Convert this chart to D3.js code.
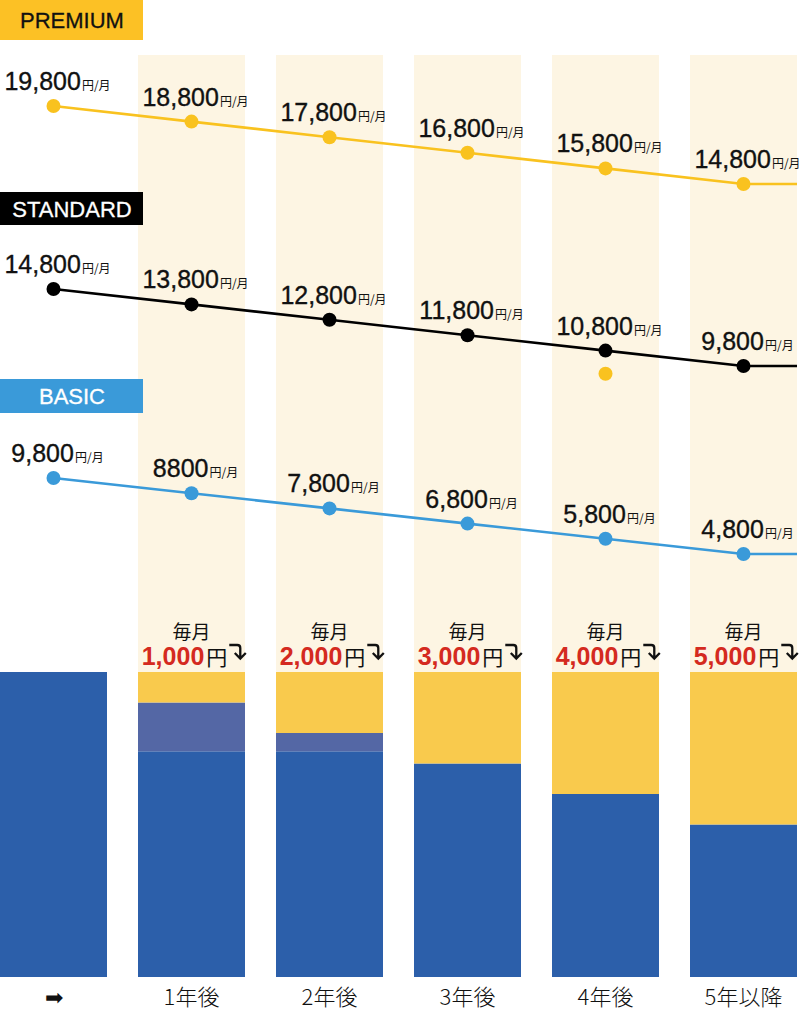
<!DOCTYPE html>
<html><head><meta charset="utf-8">
<script src="https://cdn.jsdelivr.net/npm/d3@7"></script>
<style>html,body{margin:0;padding:0;background:#fff;}svg{display:block;}</style>
</head><body>
<script>
// ---- data ----
const columns = ["➡", "1年後", "2年後", "3年後", "4年後", "5年以降"];
const premiumValues = [19800, 18800, 17800, 16800, 15800, 14800];
const premiumLabels = ["19,800", "18,800", "17,800", "16,800", "15,800", "14,800"];
const standardValues = [14800, 13800, 12800, 11800, 10800, 9800];
const standardLabels = ["14,800", "13,800", "12,800", "11,800", "10,800", "9,800"];
const basicValues = [9800, 8800, 7800, 6800, 5800, 4800];
const basicLabels = ["9,800", "8800", "7,800", "6,800", "5,800", "4,800"];
const discounts = [0, 1000, 2000, 3000, 4000, 5000];
const discountLabels = ["", "1,000", "2,000", "3,000", "4,000", "5,000"];
const overlapValues = [0, 1600, 600, 0, 0, 0];
const barTotal = 10000;
const strayDots = [{ col: "4年後", value: 9300 }];
const seriesNames = ["PREMIUM", "STANDARD", "BASIC"];

// ---- layout ----
const W = 802, H = 1024;
const svg = d3.select("body").append("svg").attr("width", W).attr("height", H);

const x = d3.scaleBand().domain(columns).range([0, 797]).paddingInner(31 / 138).paddingOuter(0);
const cx = c => x(c) + x.bandwidth() / 2;

const yBar = d3.scaleLinear().domain([0, barTotal]).range([977, 672]);

const COL_YEL = "#f9c21f", COL_BLK = "#000", COL_BLU = "#3a9ad9";

// light column backgrounds
svg.append("g").selectAll("rect").data(columns.slice(1)).join("rect")
  .attr("x", d => x(d)).attr("width", x.bandwidth())
  .attr("y", 55).attr("height", yBar(barTotal) - 55)
  .attr("fill", "#fdf5e3");

// series label boxes
const boxes = [
  { name: seriesNames[0], y: 0, h: 40, fill: "#fcc125", text: "#111" },
  { name: seriesNames[1], y: 192, h: 33, fill: "#000", text: "#fff" },
  { name: seriesNames[2], y: 379, h: 34, fill: "#3a9ad9", text: "#fff" }
];
boxes.forEach(b => {
  svg.append("rect").attr("x", 0).attr("y", b.y).attr("width", 143).attr("height", b.h).attr("fill", b.fill);
  svg.append("text").attr("x", 72).attr("y", b.y + b.h / 2 + 8)
    .attr("text-anchor", "middle").attr("font-family", "Liberation Sans, Arial, sans-serif")
    .attr("font-size", 22).attr("fill", b.text)
    .attr("stroke", b.text).attr("stroke-width", 0.3).text(b.name);
});

// line series
function drawSeries(values, labels, range, color) {
  const y = d3.scaleLinear().domain([values[0], values[values.length - 1]]).range(range);
  const pts = columns.map((c, i) => [cx(c), y(values[i])]);
  const last = values[values.length - 1];
  const ext = pts.concat([[797, y(last)]]);
  svg.append("path").attr("d", d3.line()(ext)).attr("fill", "none")
    .attr("stroke", color).attr("stroke-width", 2.6);
  svg.append("g").selectAll("circle").data(columns).join("circle")
    .attr("cx", d => cx(d)).attr("cy", (d, i) => y(values[i])).attr("r", 7).attr("fill", color);
  const g = svg.append("g");
  columns.forEach((c, i) => {
    const t = g.append("text").attr("x", cx(c) + 4).attr("y", y(values[i]) - 16)
      .attr("text-anchor", "middle").attr("fill", "#111");
    t.append("tspan").attr("font-family", "Liberation Sans, Arial, sans-serif").attr("font-size", 25)
      .attr("stroke", "#111").attr("stroke-width", 0.35).text(labels[i]);
    t.append("tspan").attr("font-family", "Noto Sans CJK JP, sans-serif").attr("font-size", 12).attr("dx", 1).text("円/月");
  });
  return y;
}
drawSeries(premiumValues, premiumLabels, [106, 184], COL_YEL);
const yStd = drawSeries(standardValues, standardLabels, [289, 366], COL_BLK);
drawSeries(basicValues, basicLabels, [478, 554], COL_BLU);

svg.append("g").selectAll("circle").data(strayDots).join("circle")
  .attr("cx", d => cx(d.col)).attr("cy", d => yStd(d.value)).attr("r", 7).attr("fill", COL_YEL);

// stacked bars
const barData = columns.map((c, i) => ({
  col: c,
  base: barTotal - discounts[i] - overlapValues[i],
  overlap: overlapValues[i],
  discount: discounts[i]
}));
const stack = d3.stack().keys(["base", "overlap", "discount"])(barData);
const barColors = { base: "#2c5faa", overlap: "#5467a5", discount: "#f9ca4d" };
svg.append("g").selectAll("g").data(stack).join("g")
  .attr("fill", d => barColors[d.key])
  .selectAll("rect").data(d => d.filter(s => s[1] > s[0])).join("rect")
  .attr("x", d => x(d.data.col)).attr("width", x.bandwidth())
  .attr("y", d => yBar(d[1])).attr("height", d => yBar(d[0]) - yBar(d[1]));

// discount labels
columns.forEach((c, i) => {
  if (!discountLabels[i]) return;
  svg.append("text").attr("x", cx(c)).attr("y", 639).attr("text-anchor", "middle")
    .attr("font-family", "Noto Sans CJK JP, sans-serif").attr("font-size", 19).attr("fill", "#111").text("毎月");
  const baseY = 665;
  const t = svg.append("text").attr("x", 0).attr("y", baseY);
  t.append("tspan").attr("font-family", "Liberation Sans, Arial, sans-serif").attr("font-weight", "bold")
    .attr("font-size", 25).attr("fill", "#d42a20").text(discountLabels[i]);
  t.append("tspan").attr("font-family", "Noto Sans CJK JP, sans-serif").attr("font-size", 21)
    .attr("dx", 2).attr("fill", "#111").text("円");
  const tw = t.node().getComputedTextLength() + 2;
  const arrowW = 18;
  const start = cx(c) + 2 - (tw + arrowW) / 2;
  t.attr("x", start);
  const ax0 = start + tw + 2, ay0 = baseY - 21;
  svg.append("path")
    .attr("d", `M${ax0},${ay0 + 1} H${ax0 + 8} Q${ax0 + 11},${ay0 + 1} ${ax0 + 11},${ay0 + 4} V${ay0 + 14.5}` +
      ` M${ax0 + 5.5},${ay0 + 9} L${ax0 + 11},${ay0 + 14.5} L${ax0 + 16.5},${ay0 + 9}`)
    .attr("fill", "none").attr("stroke", "#111").attr("stroke-width", 2.3)
    .attr("stroke-linejoin", "miter").attr("stroke-linecap", "butt");
});

// bottom axis labels
const axis = d3.axisBottom(x).tickSize(0).tickPadding(0);
const ax = svg.append("g").attr("transform", "translate(0,990)").call(axis);
ax.select(".domain").remove();
ax.selectAll("text").attr("font-family", "Noto Sans CJK JP, sans-serif").attr("font-weight", 300)
  .attr("font-size", 22).attr("fill", "#111").attr("dy", "0.7em");
ax.selectAll(".tick").filter(d => d === "➡").select("text").attr("font-family", "DejaVu Sans, sans-serif").attr("font-size", 22);
</script>
</body></html>
